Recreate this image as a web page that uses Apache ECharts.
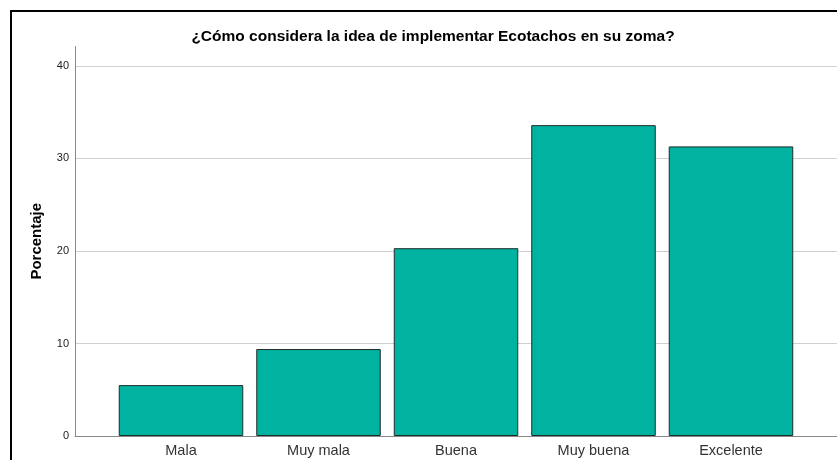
<!DOCTYPE html>
<html>
<head>
<meta charset="utf-8">
<script src="https://cdn.jsdelivr.net/npm/echarts@6/dist/echarts.min.js"></script>
<style>
  html, body { margin: 0; padding: 0; background: #fff; }
  #main { width: 837px; height: 460px; }
</style>
</head>
<body>
<div id="main"></div>
<script>
var categories = ['Mala', 'Muy mala', 'Buena', 'Muy buena', 'Excelente'];
var porcentajes = [5.5, 9.4, 20.3, 33.6, 31.3];
var yTicks = [0, 10, 20, 30, 40];

var barData = [];
for (var i = 0; i < categories.length; i++) {
    barData.push([i, porcentajes[i]]);
}

var chart = echarts.init(document.getElementById('main'));
var option = {
    animation: false,
    backgroundColor: '#fff',
    title: {
        text: '¿Cómo considera la idea de implementar Ecotachos en su zoma?',
        left: 428,
        textAlign: 'center',
        top: 24,
        textStyle: {
            fontFamily: 'Liberation Sans',
            fontSize: 15.5,
            fontWeight: 'bold',
            color: '#000'
        }
    },
    graphic: [{
        type: 'rect',
        shape: { x: 11, y: 11, width: 840, height: 460 },
        style: { fill: 'none', stroke: '#000', lineWidth: 2 },
        silent: true
    }],
    grid: { left: 75, right: 0, top: 46.5, bottom: 24 },
    xAxis: {
        type: 'value',
        min: -0.771,
        max: 4.771,
        splitLine: { show: false },
        axisTick: { show: false },
        axisLine: { show: true, onZero: false, lineStyle: { color: '#888', width: 1 } },
        axisLabel: {
            customValues: [0, 1, 2, 3, 4],
            formatter: function (v) { return categories[Math.round(v)]; },
            fontFamily: 'Liberation Sans',
            fontSize: 14.5,
            color: '#333',
            margin: 7
        }
    },
    yAxis: {
        type: 'value',
        min: 0,
        max: 42.1,
        interval: 10,
        name: 'Porcentaje',
        nameLocation: 'middle',
        nameGap: 31,
        nameTextStyle: {
            fontFamily: 'Liberation Sans',
            fontSize: 15,
            fontWeight: 'bold',
            color: '#000'
        },
        axisLine: { show: true, onZero: false, lineStyle: { color: '#888', width: 1 } },
        axisTick: { show: false },
        axisLabel: {
            showMaxLabel: false,
            formatter: function (v) { return yTicks.indexOf(v) >= 0 ? v : ''; },
            fontFamily: 'Liberation Sans',
            fontSize: 11,
            color: '#222',
            margin: 6
        },
        splitLine: {
            show: true,
            showMinLine: false,
            showMaxLine: false,
            lineStyle: { color: '#d0d0d0', width: 1 }
        }
    },
    series: [{
        type: 'bar',
        data: barData,
        barWidth: 124.5,
        itemStyle: {
            color: '#00B3A0',
            borderColor: '#1f2b28',
            borderWidth: 1
        }
    }]
};
chart.setOption(option);
</script>
</body>
</html>
